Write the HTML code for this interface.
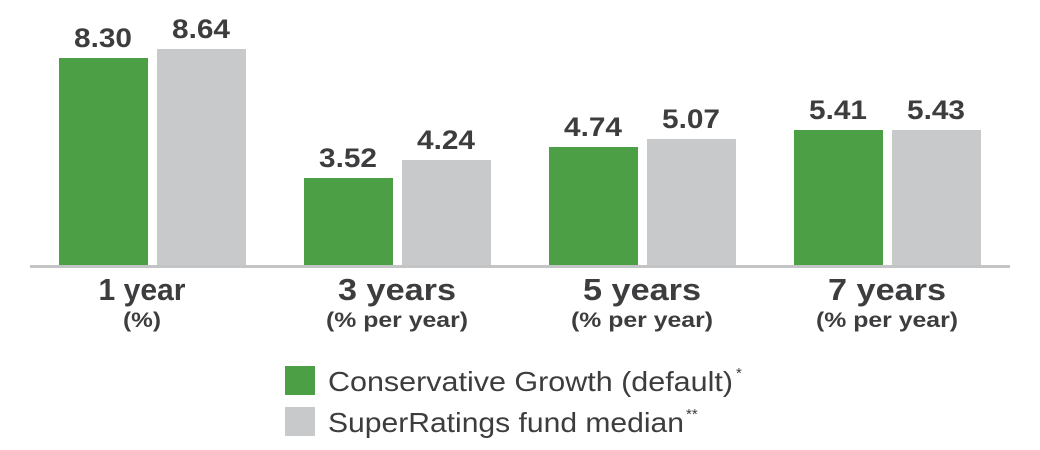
<!DOCTYPE html>
<html><head><style>html,body{margin:0;padding:0;background:#fff}svg{display:block}</style></head>
<body>
<svg width="1040" height="450" viewBox="0 0 1040 450" xmlns="http://www.w3.org/2000/svg" font-family="Liberation Sans, sans-serif" fill="#3d3d3f">
<g>
<rect x="59" y="58" width="89" height="209" fill="#4c9f45"/>
<rect x="157" y="49" width="89" height="218" fill="#c8c9cb"/>
<rect x="304" y="178" width="89" height="89" fill="#4c9f45"/>
<rect x="402" y="160" width="89" height="107" fill="#c8c9cb"/>
<rect x="549" y="147" width="89" height="120" fill="#4c9f45"/>
<rect x="647" y="139" width="89" height="128" fill="#c8c9cb"/>
<rect x="794" y="130" width="89" height="137" fill="#4c9f45"/>
<rect x="892" y="130" width="89" height="137" fill="#c8c9cb"/>
<rect x="30" y="265" width="980" height="3" fill="#c3c4c6"/>
</g>
<g font-weight="bold" font-size="27" text-anchor="middle">
<text x="103" y="47" textLength="58" lengthAdjust="spacingAndGlyphs">8.30</text>
<text x="201" y="38" textLength="58" lengthAdjust="spacingAndGlyphs">8.64</text>
<text x="348" y="167" textLength="58" lengthAdjust="spacingAndGlyphs">3.52</text>
<text x="446" y="149" textLength="58" lengthAdjust="spacingAndGlyphs">4.24</text>
<text x="593" y="136" textLength="58" lengthAdjust="spacingAndGlyphs">4.74</text>
<text x="691" y="128" textLength="58" lengthAdjust="spacingAndGlyphs">5.07</text>
<text x="838" y="119" textLength="58" lengthAdjust="spacingAndGlyphs">5.41</text>
<text x="936" y="119" textLength="58" lengthAdjust="spacingAndGlyphs">5.43</text>
</g>
<g font-weight="bold" font-size="31" text-anchor="middle">
<text x="142" y="300" textLength="87" lengthAdjust="spacingAndGlyphs">1 year</text>
<text x="397" y="300" textLength="118" lengthAdjust="spacingAndGlyphs">3 years</text>
<text x="642" y="300" textLength="118" lengthAdjust="spacingAndGlyphs">5 years</text>
<text x="887" y="300" textLength="118" lengthAdjust="spacingAndGlyphs">7 years</text>
</g>
<g font-weight="bold" font-size="21" text-anchor="middle">
<text x="142" y="327" textLength="38" lengthAdjust="spacingAndGlyphs">(%)</text>
<text x="397" y="327" textLength="142" lengthAdjust="spacingAndGlyphs">(% per year)</text>
<text x="642" y="327" textLength="142" lengthAdjust="spacingAndGlyphs">(% per year)</text>
<text x="887" y="327" textLength="142" lengthAdjust="spacingAndGlyphs">(% per year)</text>
</g>
<rect x="285" y="366" width="30" height="29" fill="#4c9f45"/>
<rect x="285" y="407" width="30" height="29" fill="#c8c9cb"/>
<g font-size="28">
<text x="328" y="391" textLength="405" lengthAdjust="spacingAndGlyphs">Conservative Growth (default)</text>
<text x="736" y="378" font-size="15">*</text>
<text x="328" y="432" textLength="356" lengthAdjust="spacingAndGlyphs">SuperRatings fund median</text>
<text x="686" y="419" font-size="15">**</text>
</g>
</svg>
</body></html>
